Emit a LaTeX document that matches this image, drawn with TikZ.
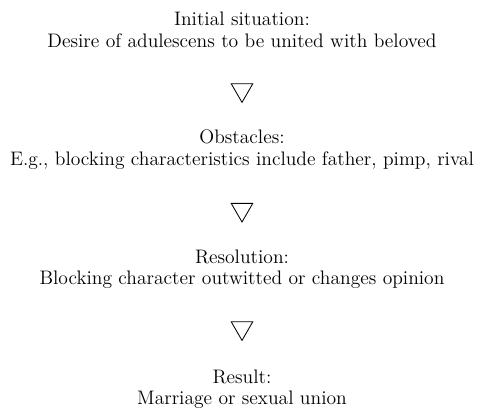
\documentclass[tikz,border=0pt]{standalone}
\usepackage{tikz}
\usetikzlibrary{positioning,shapes.geometric}
\tikzset{stage/.style={align=center,font=\fontsize{13.9}{15.6}\selectfont,inner sep=0pt}}
\tikzset{arrowtri/.style={draw,semithick,regular polygon,regular polygon sides=3,shape border rotate=180,minimum size=0.62cm,inner sep=0pt}}

\begin{document}
\begin{tikzpicture}
  \useasboundingbox (0,0) rectangle (12.1,-10.35);
  \node[stage] (init) at (6.05,-0.74) {Initial situation:\\Desire of adulescens to be united with beloved};
  \node[arrowtri] (t1) at (6.05,-2.25) {};
  \node[stage] (obst) at (6.05,-3.74) {Obstacles:\\E.g., blocking characteristics include father, pimp, rival};
  \node[arrowtri] (t2) at (6.05,-5.24) {};
  \node[stage] (resol) at (6.05,-6.73) {Resolution:\\Blocking character outwitted or changes opinion};
  \node[arrowtri] (t3) at (6.05,-8.20) {};
  \node[stage] (result) at (6.05,-9.73) {Result:\\Marriage or sexual union};
\end{tikzpicture}
\end{document}
